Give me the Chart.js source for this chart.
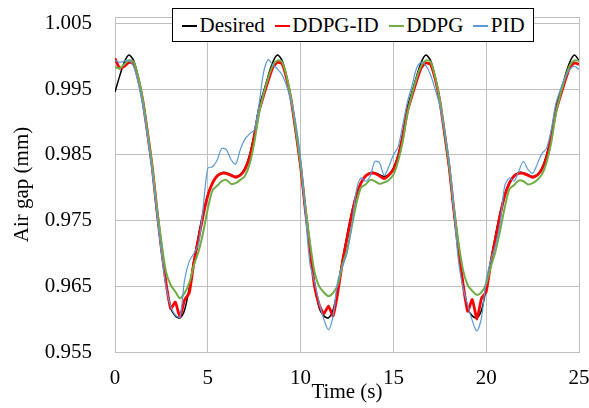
<!DOCTYPE html>
<html>
<head>
<meta charset="utf-8">
<script src="https://cdn.jsdelivr.net/npm/chart.js@4.4.1/dist/chart.umd.min.js"></script>
<style>
  html, body { margin: 0; padding: 0; background: #fff; }
  #wrap { position: relative; width: 589px; height: 408px; }
  #c { position: absolute; left: 0; top: 0; }
  #legend {
    position: absolute; left: 172px; top: 8px; width: 362px; height: 34px;
    box-sizing: border-box; border: 1px solid #000; background: #fff;
    display: flex; align-items: center; padding-left: 9px;
    font-family: "Liberation Serif", "Times New Roman", serif; font-size: 21px; color: #000;
    white-space: nowrap;
  }
  #legend .it { display: flex; align-items: center; margin-right: 10px; }
  #legend .ln { display: inline-block; width: 15px; height: 2px; margin-right: 2.5px; margin-top: 1px; }
</style>
</head>
<body>
<div id="wrap">
  <canvas id="c" width="589" height="408"></canvas>
  <div id="legend"></div>
</div>
<script>
// ---- Data ----
const time = [0,0.25,0.5,0.75,1,1.25,1.5,1.75,2,2.25,2.5,2.75,3,3.25,3.5,3.75,4,4.25,4.5,4.75,5,5.25,5.5,5.75,6,6.25,6.5,6.75,7,7.25,7.5,7.75,8,
  8.25,8.5,8.75,9,9.25,9.5,9.75,10,10.25,10.5,10.75,11,11.25,11.5,11.75,12,12.25,12.5,12.75,13,13.25,13.5,13.75,14,14.25,14.5,14.75,15,15.25,15.5,15.75,16,
  16.25,16.5,16.75,17,17.25,17.5,17.75,18,18.25,18.5,18.75,19,19.25,19.5,19.75,20,20.25,20.5,20.75,21,21.25,21.5,21.75,22,22.25,22.5,22.75,23,23.25,23.5,23.75,24,
  24.25,24.5,24.75,25];

const desired = [0.9946,0.9970,0.9991,1.0002,0.9994,0.9968,0.9932,0.9882,0.9830,0.9765,0.9705,0.9655,0.9617,0.9605,0.9602,0.9614,0.9648,0.9690,0.9728,0.9762,0.9790,0.9808,0.9818,0.9823,0.9823,0.9820,0.9817,0.9820,0.9830,0.9850,0.9882,0.9922,0.9946,
  0.9970,0.9991,1.0002,0.9994,0.9968,0.9932,0.9882,0.9830,0.9765,0.9705,0.9655,0.9617,0.9605,0.9602,0.9614,0.9648,0.9690,0.9728,0.9762,0.9790,0.9808,0.9818,0.9823,0.9823,0.9820,0.9817,0.9820,0.9830,0.9850,0.9882,0.9922,0.9946,
  0.9970,0.9991,1.0002,0.9994,0.9968,0.9932,0.9882,0.9830,0.9765,0.9705,0.9655,0.9617,0.9605,0.9602,0.9614,0.9648,0.9690,0.9728,0.9762,0.9790,0.9808,0.9818,0.9823,0.9823,0.9820,0.9817,0.9820,0.9830,0.9850,0.9882,0.9922,0.9946,
  0.9970,0.9991,1.0002,0.9994];

const ddpgId = [0.9997,0.9982,0.9985,0.9991,0.9989,0.9966,0.9932,0.9884,0.9833,0.9768,0.9708,0.9655,0.9616,0.9626,0.9603,0.9629,0.9640,0.9686,0.9722,0.9758,0.9788,0.9807,0.9818,0.9822,0.9822,0.9819,0.9816,0.9819,0.9828,0.9846,0.9877,0.9916,0.9940,
  0.9963,0.9983,0.9991,0.9989,0.9966,0.9932,0.9884,0.9833,0.9768,0.9708,0.9650,0.9622,0.9608,0.9620,0.9605,0.9640,0.9686,0.9722,0.9758,0.9788,0.9807,0.9818,0.9822,0.9822,0.9818,0.9814,0.9819,0.9828,0.9846,0.9877,0.9916,0.9940,
  0.9963,0.9983,0.9990,0.9988,0.9966,0.9932,0.9884,0.9833,0.9768,0.9708,0.9654,0.9612,0.9630,0.9600,0.9632,0.9642,0.9686,0.9722,0.9758,0.9788,0.9807,0.9818,0.9822,0.9822,0.9819,0.9816,0.9819,0.9828,0.9846,0.9877,0.9916,0.9940,
  0.9963,0.9983,0.9990,0.9988];

const ddpg = [0.9984,0.9982,0.9988,0.9994,0.9992,0.9969,0.9934,0.9886,0.9835,0.9772,0.9718,0.9672,0.9652,0.9642,0.9632,0.9640,0.9655,0.9682,0.9703,0.9732,0.9768,0.9796,0.9803,0.9810,0.9812,0.9806,0.9807,0.9812,0.9818,0.9836,0.9868,0.9912,0.9942,
  0.9967,0.9986,0.9994,0.9992,0.9969,0.9934,0.9886,0.9835,0.9772,0.9718,0.9672,0.9650,0.9641,0.9635,0.9640,0.9652,0.9682,0.9705,0.9740,0.9775,0.9800,0.9805,0.9812,0.9810,0.9806,0.9808,0.9812,0.9820,0.9840,0.9870,0.9912,0.9942,
  0.9967,0.9986,0.9994,0.9992,0.9969,0.9934,0.9886,0.9835,0.9772,0.9718,0.9675,0.9652,0.9643,0.9637,0.9641,0.9654,0.9680,0.9703,0.9735,0.9770,0.9798,0.9804,0.9811,0.9810,0.9805,0.9807,0.9812,0.9820,0.9838,0.9868,0.9912,0.9942,
  0.9967,0.9986,0.9994,0.9993];

const pid = [0.9994,0.9991,0.9993,0.9994,0.9985,0.9960,0.9925,0.9878,0.9825,0.9762,0.9700,0.9650,0.9620,0.9606,0.9603,0.9660,0.9688,0.9700,0.9715,0.9770,0.9830,0.9832,0.9842,0.9860,0.9858,0.9843,0.9836,0.9858,0.9874,0.9882,0.9888,0.9925,0.9975,
  0.9995,0.9987,0.9981,0.9972,0.9955,0.9930,0.9897,0.9845,0.9765,0.9685,0.9657,0.9625,0.9600,0.9584,0.9605,0.9658,0.9680,0.9700,0.9741,0.9795,0.9815,0.9810,0.9818,0.9840,0.9838,0.9819,0.9832,0.9850,0.9862,0.9895,0.9930,0.9955,
  0.9982,0.9991,0.9986,0.9972,0.9950,0.9925,0.9888,0.9840,0.9770,0.9690,0.9648,0.9622,0.9598,0.9582,0.9603,0.9660,0.9690,0.9712,0.9746,0.9803,0.9815,0.9810,0.9825,0.9840,0.9828,0.9822,0.9836,0.9852,0.9860,0.9888,0.9928,0.9950,
  0.9968,0.9980,0.9985,0.9980];

const seriesNames = ['Desired', 'DDPG-ID', 'DDPG', 'PID'];
const seriesColors = ['#000000', '#FF0000', '#70AD47', '#5B9BD5'];
const yTicks = [0.955, 0.965, 0.975, 0.985, 0.995, 1.005];
const xTicks = [0, 5, 10, 15, 20, 25];

// ---- Legend (HTML, real text) ----
const legendEl = document.getElementById('legend');
seriesNames.forEach((n, i) => {
  const it = document.createElement('span'); it.className = 'it';
  const ln = document.createElement('span'); ln.className = 'ln'; ln.style.background = seriesColors[i];
  it.appendChild(ln); it.appendChild(document.createTextNode(n));
  legendEl.appendChild(it);
});

const pts = arr => arr.map((v, i) => ({x: time[i], y: v}));
const font = {family: "'Liberation Serif', 'Times New Roman', serif", size: 21};
const gridColor = '#BFBFBF';

const frame = {
  id: 'frame',
  beforeDatasetsDraw(chart) {
    const {ctx, chartArea: a} = chart;
    ctx.save();
    ctx.strokeStyle = gridColor; ctx.lineWidth = 1;
    ctx.beginPath();
    ctx.moveTo(Math.round(a.left) + 0.5, Math.round(a.top) + 0.5);
    ctx.lineTo(Math.round(a.right) + 0.5, Math.round(a.top) + 0.5);
    ctx.stroke();
    ctx.restore();
  }
};

const widths = [1.5, 2.8, 2, 1.2];
const dataArrays = [desired, ddpgId, ddpg, pid];

new Chart(document.getElementById('c'), {
  type: 'line',
  data: {
    datasets: dataArrays.map((arr, i) => ({
      label: seriesNames[i],
      data: pts(arr),
      borderColor: seriesColors[i],
      backgroundColor: seriesColors[i],
      borderWidth: widths[i],
      pointRadius: 0,
      tension: i === 1 ? 0.15 : 0.3,
      order: 4 - i
    }))
  },
  options: {
    responsive: false,
    devicePixelRatio: 1,
    animation: false,
    layout: {padding: {top: 17, right: 10, bottom: 0, left: 0}},
    plugins: {legend: {display: false}, tooltip: {enabled: false}},
    scales: {
      x: {
        type: 'linear', min: 0, max: 25,
        afterFit(s) { s.height = 56; s.paddingLeft = 0; s.paddingRight = 0; },
        afterBuildTicks(s) { s.ticks = xTicks.map(v => ({value: v})); },
        ticks: {font, color: '#000', padding: 14, maxRotation: 0, callback: v => String(v)},
        grid: {color: gridColor, lineWidth: 1, drawTicks: false},
        border: {color: gridColor},
        title: {display: true, text: 'Time (s)', font, color: '#000', padding: {top: 0, bottom: 3}}
      },
      y: {
        type: 'linear', min: 0.955, max: 1.006,
        afterFit(s) { s.width = 115; s.paddingTop = 0; s.paddingBottom = 0; },
        afterBuildTicks(s) { s.ticks = yTicks.map(v => ({value: v})); },
        ticks: {font, color: '#000', padding: 23, callback: v => v.toFixed(3)},
        grid: {color: gridColor, lineWidth: 1, drawTicks: false},
        border: {color: gridColor},
        title: {display: true, text: 'Air gap (mm)', font, color: '#000', padding: {top: 10, bottom: 0}}
      }
    }
  },
  plugins: [frame]
});
</script>
</body>
</html>
